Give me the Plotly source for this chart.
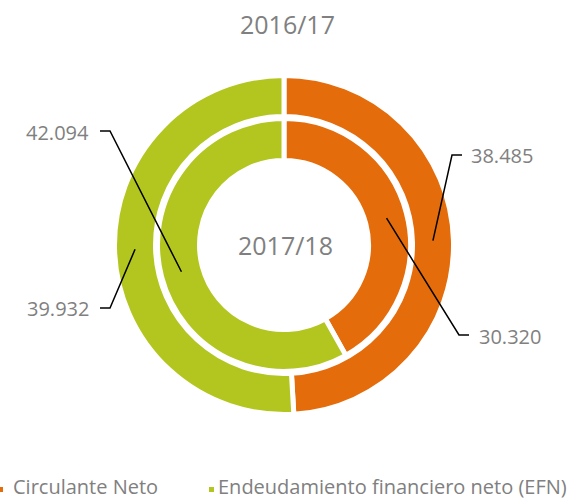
import math
import plotly.graph_objects as go

# ---- data ----
categories = ["Circulante Neto", "Endeudamiento financiero neto (EFN)"]
periods = ["2016/17", "2017/18"]          # outer ring, inner ring
values_2016_17 = [38485, 39932]
values_2017_18 = [30320, 42094]
colors = ["#E46C0A", "#B3C61F"]

def fmt(v):
    return f"{v:,}".replace(",", ".")

W, H = 583, 499
cx, cy = 284, 245
LW = 5  # white separator width

# visible radii (px)
outer_vis = (131, 167)
inner_vis = (87, 124)

def px2paper(x, y):
    return x / W, 1 - y / H

def domain_for(R):
    return dict(x=[(cx - R) / W, (cx + R) / W],
                y=[1 - (cy + R) / H, 1 - (cy - R) / H])

fig = go.Figure()
for vals, (rin, rout), name in [(values_2016_17, outer_vis, periods[0]),
                                (values_2017_18, inner_vis, periods[1])]:
    R = rout + LW / 2
    rh = rin - LW / 2
    fig.add_trace(go.Pie(
        labels=categories, values=vals, name=name,
        hole=rh / R, domain=domain_for(R),
        sort=False, direction="clockwise", rotation=0,
        marker=dict(colors=colors, line=dict(color="white", width=LW)),
        textinfo="none", hoverinfo="label+value", showlegend=False,
    ))

# ---- leader lines and labels ----
# (ring values, ring mid radius, slice index, elbow px, end px, text px, side)
label_layout = [
    (values_2016_17, 149, 0, (452, 155), (462, 155), (469, 155), "left"),
    (values_2017_18, 106, 0, (459, 335), (469, 335), (477, 336), "left"),
    (values_2017_18, 106, 1, (110, 131), (100, 131), (91, 133), "right"),
    (values_2016_17, 149, 1, (110, 308), (100, 308), (91, 308), "right"),
]
annotations = []
shapes = []
gray = "#808080"
for vals, rmid, i, elbow, end, tpos, side in label_layout:
    tot = sum(vals)
    start = sum(vals[:i])
    ang = math.radians((start + vals[i] / 2) / tot * 360)
    ax = cx + rmid * math.sin(ang)
    ay = cy - rmid * math.cos(ang)
    pts = [px2paper(ax, ay), px2paper(*elbow), px2paper(*end)]
    path = "M {:.5f} {:.5f} L {:.5f} {:.5f} L {:.5f} {:.5f}".format(
        pts[0][0], pts[0][1], pts[1][0], pts[1][1], pts[2][0], pts[2][1])
    shapes.append(dict(type="path", xref="paper", yref="paper", path=path,
                       line=dict(color="black", width=1.5)))
    tx, ty = px2paper(*tpos)
    annotations.append(dict(x=tx, y=ty, xref="paper", yref="paper",
                            text=fmt(vals[i]), showarrow=False,
                            xanchor=side, yanchor="middle",
                            font=dict(size=20, color=gray)))

# titles
for txt, (x, y) in [(periods[0], (287, 24)), (periods[1], (285, 245))]:
    px, py = px2paper(x, y)
    annotations.append(dict(x=px, y=py, xref="paper", yref="paper", text=txt,
                            showarrow=False, xanchor="center", yanchor="middle",
                            font=dict(size=25, color=gray)))

# legend (manual)
legend_pos = [((-2, 487), (12, 486)), ((209, 487), (217, 486))]
for cat, col, (sq, tp) in zip(categories, colors, legend_pos):
    x0, y0 = px2paper(sq[0], sq[1])
    x1, y1 = px2paper(sq[0] + 5, sq[1] + 5)
    shapes.append(dict(type="rect", xref="paper", yref="paper",
                       x0=x0, y0=y1, x1=x1, y1=y0,
                       fillcolor=col, line=dict(width=0)))
    tx, ty = px2paper(*tp)
    annotations.append(dict(x=tx, y=ty, xref="paper", yref="paper", text=cat,
                            showarrow=False, xanchor="left", yanchor="middle",
                            borderpad=0,
                            font=dict(size=20, color=gray)))

fig.update_layout(
    width=W, height=H,
    margin=dict(l=0, r=0, t=0, b=0),
    paper_bgcolor="white", plot_bgcolor="white",
    font=dict(family="Open Sans, sans-serif", color=gray),
    annotations=annotations, shapes=shapes,
)
fig.write_html("out.html",
               config={"displayModeBar": False},
               post_script="document.body.style.margin='0';"
                           "document.body.style.overflow='hidden';")
